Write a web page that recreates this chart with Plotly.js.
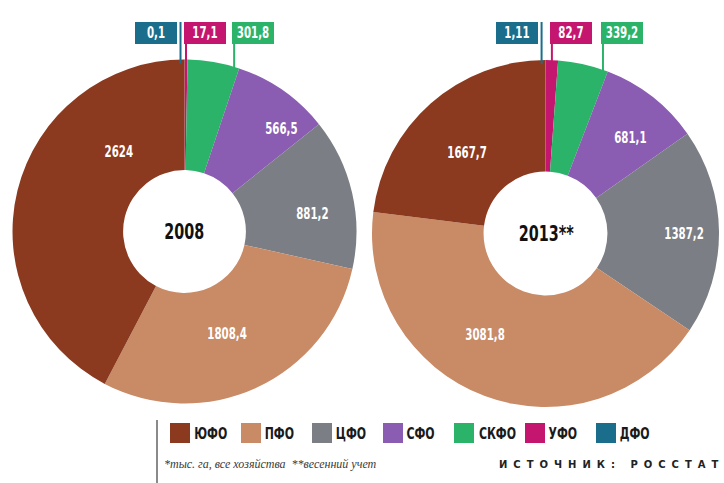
<!DOCTYPE html>
<html><head><meta charset="utf-8">
<script src="https://cdn.plot.ly/plotly-3.0.1.min.js"></script>
<style>html,body{margin:0;padding:0;background:#fff}#chart{width:724px;height:483px}</style>
</head><body><div id="chart"></div>
<script>
// ---- data ----
const regions = ['ДФО', 'УФО', 'СКФО', 'СФО', 'ЦФО', 'ПФО', 'ЮФО'];
const values2008 = [0.1, 17.1, 301.8, 566.5, 881.2, 1808.4, 2624];
const values2013 = [1.11, 82.7, 339.2, 681.1, 1387.2, 3081.8, 1667.7];
const years = ['2008', '2013**'];
const legendOrder = ['ЮФО', 'ПФО', 'ЦФО', 'СФО', 'СКФО', 'УФО', 'ДФО'];
const footnote = '*тыс. га, все хозяйства  **весенний учет';
const source = 'ИСТОЧНИК: РОССТАТ';

// ---- styles / layout constants ----
const colorMap = {'ДФО':'#1a6e8c','УФО':'#c4166e','СКФО':'#2cb36a','СФО':'#8a5cb2','ЦФО':'#7b7e85','ПФО':'#c98a66','ЮФО':'#8c3a1f'};
const W = 724, H = 483;
const pies = [{cx:184.5, cy:231.5, r:172}, {cx:545.5, cy:233.5, r:173.5}];
const HOLE = 0.357;
const COND = '"DejaVu Sans Condensed", "Liberation Sans Narrow", sans-serif';
const SQUEEZE = 0.76;
// label placement within slice: [fraction of slice angle, fraction of radius]
const insidePlacement = [
  {'СФО':[0.76,0.82], 'ЦФО':[0.60,0.75], 'ПФО':[0.52,0.645], 'ЮФО':[0.74,0.60]},
  {'СФО':[0.61,0.74], 'ЦФО':[0.51,0.80], 'ПФО':[0.567,0.68], 'ЮФО':[0.466,0.648]}
];
// flag labels for small slices: [fraction of slice angle, pixel offset, side]
const flagPlacement = {'ДФО':[0.5,-4,'left'], 'УФО':[0.5,0,'right'], 'СКФО':[0.9,0,'right']};
const FLAG_TOP = 22;

const allValues = [values2008, values2013];
const fmt = v => String(v).replace('.', ',');
const px2x = p => p / W;
const px2y = p => 1 - p / H;

const traces = [];
const annotations = [];
const shapes = [];

allValues.forEach((vals, k) => {
  const g = pies[k];
  traces.push({
    type: 'pie', values: vals, labels: regions, sort: false, direction: 'clockwise', rotation: 0,
    hole: HOLE, textinfo: 'none', showlegend: false, hoverinfo: 'label+value',
    marker: {colors: regions.map(r => colorMap[r]), line: {width: 0}},
    domain: {x: [px2x(g.cx - g.r), px2x(g.cx + g.r)], y: [px2y(g.cy + g.r), px2y(g.cy - g.r)]}
  });
  const total = vals.reduce((a, b) => a + b, 0);
  let cum = 0;
  vals.forEach((v, i) => {
    const a0 = cum / total * 2 * Math.PI;
    cum += v;
    const a1 = cum / total * 2 * Math.PI;
    const name = regions[i];
    if (insidePlacement[k][name]) {
      const [fa, fr] = insidePlacement[k][name];
      const a = a0 + fa * (a1 - a0);
      const x = g.cx + fr * g.r * Math.sin(a);
      const y = g.cy - fr * g.r * Math.cos(a);
      annotations.push({xref:'paper', yref:'paper', x: px2x(x), y: px2y(y), xanchor:'center', yanchor:'middle', showarrow:false,
        text: '<b>' + fmt(v) + '</b>', font: {family: COND, size: 15, color: '#ffffff'}});
    } else if (flagPlacement[name]) {
      const [fa, off, side] = flagPlacement[name];
      const a = a0 + fa * (a1 - a0);
      const xp = g.cx + g.r * Math.sin(a) + off;
      const dx = xp - g.cx;
      const yEdge = g.cy - Math.sqrt(Math.max(0, g.r * g.r - dx * dx));
      shapes.push({type:'line', xref:'paper', yref:'paper', x0: px2x(xp), x1: px2x(xp),
        y0: px2y(FLAG_TOP), y1: px2y(yEdge + 4), line: {color: colorMap[name], width: 2}});
      annotations.push({xref:'paper', yref:'paper', x: px2x(side === 'left' ? xp - 4 : xp - 2), y: px2y(FLAG_TOP),
        xanchor: side === 'left' ? 'right' : 'left', yanchor: 'top', showarrow: false, width: 36, height: 16,
        text: '<b>' + fmt(v) + '</b>', bgcolor: colorMap[name], bordercolor: colorMap[name], borderwidth: 1, borderpad: 2,
        font: {family: COND, size: 15, color: '#ffffff'}});
    }
  });
  annotations.push({xref:'paper', yref:'paper', x: px2x(g.cx), y: px2y(g.cy), xanchor:'center', yanchor:'middle', showarrow:false,
    text: '<b>' + years[k] + '</b>', font: {family: COND, size: 21, color: '#111111'}});
});

// legend (manual, square swatches)
const LEG_X0 = 170, LEG_STEP = 71, LEG_Y = 433, SW = 20;
legendOrder.forEach((name, i) => {
  const x = LEG_X0 + i * LEG_STEP;
  shapes.push({type:'rect', xref:'paper', yref:'paper', x0: px2x(x), x1: px2x(x + SW),
    y0: px2y(LEG_Y + SW / 2), y1: px2y(LEG_Y - SW / 2), fillcolor: colorMap[name], line: {width: 0}});
  annotations.push({xref:'paper', yref:'paper', x: px2x(x + SW - 3), y: px2y(LEG_Y), xanchor:'left', yanchor:'middle', showarrow:false,
    text: '<b>' + name + '</b>', font: {family: COND, size: 16, color: '#1a1a1a'}});
});
shapes.push({type:'line', xref:'paper', yref:'paper', x0: px2x(157), x1: px2x(157), y0: px2y(420), y1: 0,
  line: {color: '#8a8a8a', width: 2}});
annotations.push({xref:'paper', yref:'paper', x: px2x(162), y: px2y(464), xanchor:'left', yanchor:'middle', showarrow:false,
  text: footnote, font: {family: '"Liberation Serif", serif', size: 12, color: '#3a3a3a', style: 'italic'}});
annotations.push({xref:'paper', yref:'paper', x: px2x(721), y: px2y(464), xanchor:'right', yanchor:'middle', showarrow:false,
  text: '<b>' + source.split('').join('\u2002\u200a') + '</b>', font: {family: '"DejaVu Sans", sans-serif', size: 10, color: '#222222'}});

Plotly.newPlot('chart', traces, {
  width: W, height: H, margin: {l:0, r:0, t:0, b:0},
  paper_bgcolor: '#ffffff', showlegend: false,
  annotations: annotations, shapes: shapes
}, {displayModeBar: false, staticPlot: true}).then(gd => {
  // condensed look: squeeze the bold condensed texts horizontally around their centre
  gd.querySelectorAll('.annotation-text').forEach(t => {
    const fam = t.style.fontFamily || '';
    if (fam.indexOf('Condensed') >= 0) {
      t.removeAttribute('clip-path');
      t.style.clipPath = 'none';
      t.style.transformBox = 'fill-box';
      t.style.transformOrigin = 'center';
      t.style.transform = 'scaleX(' + SQUEEZE + ')';
    }
  });
});
</script></body></html>
